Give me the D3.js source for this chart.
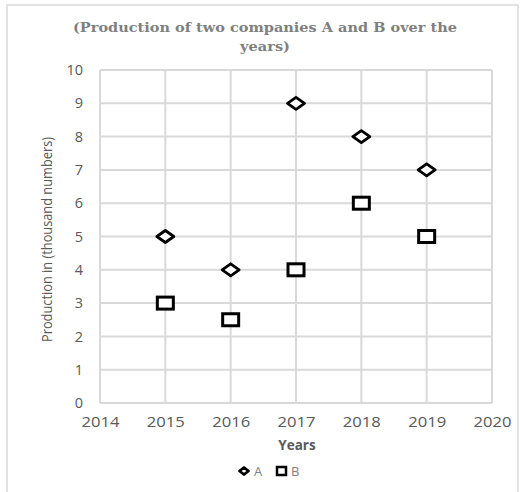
<!DOCTYPE html>
<html>
<head>
<meta charset="utf-8">
<script src="https://cdn.jsdelivr.net/npm/d3@7"></script>
<style>
  body { margin: 0; background: #fff; }
  text { font-family: "Open Sans", sans-serif; }
</style>
</head>
<body>
<script>
//Data
const years = [2015, 2016, 2017, 2018, 2019];
const seriesA = [5, 4, 9, 8, 7];
const seriesB = [3, 2.5, 4, 6, 5];
const xTicks = [2014, 2015, 2016, 2017, 2018, 2019, 2020];
const yTicks = [0, 1, 2, 3, 4, 5, 6, 7, 8, 9, 10];

const width = 520, height = 492;
const margin = {top: 70, right: 28, bottom: 89, left: 100};

const svg = d3.select("body").append("svg")
    .attr("width", width)
    .attr("height", height);

//Chart border
svg.append("rect")
    .attr("x", 7).attr("y", 5)
    .attr("width", 511).attr("height", 500)
    .attr("fill", "#fff")
    .attr("stroke", "#d9d9d9")
    .attr("stroke-width", 1.5);

//Scales
const x = d3.scaleLinear().domain([2014, 2020]).range([margin.left, width - margin.right]);
const y = d3.scaleLinear().domain([0, 10]).range([height - margin.bottom, margin.top]);

//Gridlines
svg.append("g").selectAll("line.h")
    .data(yTicks).enter().append("line")
    .attr("x1", x(2014)).attr("x2", x(2020))
    .attr("y1", d => y(d)).attr("y2", d => y(d))
    .attr("stroke", "#d9d9d9").attr("stroke-width", 2);

svg.append("g").selectAll("line.v")
    .data(xTicks).enter().append("line")
    .attr("x1", d => x(d)).attr("x2", d => x(d))
    .attr("y1", y(0)).attr("y2", y(10))
    .attr("stroke", "#d9d9d9").attr("stroke-width", 2);

//Axis labels
const yAxis = d3.axisLeft(y).tickValues(yTicks).tickSize(0).tickPadding(17);
svg.append("g")
    .attr("transform", `translate(${x(2014)},0)`)
    .call(yAxis)
    .call(g => g.select(".domain").remove())
    .selectAll("text")
    .attr("font-size", 14.5).attr("fill", "#595959")
    .style("font-family", "'Open Sans', sans-serif");

const xAxis = d3.axisBottom(x).tickValues(xTicks).tickSize(0).tickPadding(14).tickFormat(d3.format("d"));
svg.append("g")
    .attr("transform", `translate(0,${y(0)})`)
    .call(xAxis)
    .call(g => g.select(".domain").remove())
    .selectAll("text")
    .attr("font-size", 14.5).attr("fill", "#595959")
    .attr("textLength", 38).attr("lengthAdjust", "spacingAndGlyphs")
    .style("font-family", "'Open Sans', sans-serif");

//Title
const title = svg.append("text")
    .attr("text-anchor", "middle")
    .attr("fill", "#7f7f7f")
    .attr("font-size", 13.5)
    .attr("font-weight", "bold")
    .style("font-family", "'DejaVu Serif', serif");
title.append("tspan").attr("x", 265).attr("y", 32)
    .attr("textLength", 384).attr("lengthAdjust", "spacingAndGlyphs")
    .text("(Production of two companies A and B over the");
title.append("tspan").attr("x", 265).attr("y", 51)
    .attr("textLength", 50).attr("lengthAdjust", "spacingAndGlyphs")
    .text("years)");

//Axis titles
svg.append("text")
    .attr("transform", `translate(52,${(y(0) + y(10)) / 2 + 3}) rotate(-90)`)
    .attr("text-anchor", "middle")
    .attr("font-size", 14)
    .attr("fill", "#595959")
    .attr("textLength", 205).attr("lengthAdjust", "spacingAndGlyphs")
    .style("font-family", "'Liberation Sans Narrow', 'Open Sans', sans-serif")
    .text("Production in (thousand numbers)");

svg.append("text")
    .attr("x", 297).attr("y", 450)
    .attr("text-anchor", "middle")
    .attr("font-size", 13.5)
    .attr("font-weight", "bold")
    .attr("fill", "#595959")
    .text("Years");

//Markers (reference is stretched horizontally)
const diamondPath = (w, h) => `M${-w / 2},0L0,${-h / 2}L${w / 2},0L0,${h / 2}Z`;

svg.append("g").selectAll("path.a")
    .data(years.map((d, i) => ({year: d, value: seriesA[i]})))
    .enter().append("path")
    .attr("d", diamondPath(17, 12))
    .attr("transform", d => `translate(${x(d.year)},${y(d.value)})`)
    .attr("fill", "#fff").attr("stroke", "#000").attr("stroke-width", 2.8)
    .attr("stroke-linejoin", "round");

svg.append("g").selectAll("rect.b")
    .data(years.map((d, i) => ({year: d, value: seriesB[i]})))
    .enter().append("rect")
    .attr("x", d => x(d.year) - 8)
    .attr("y", d => y(d.value) - 6)
    .attr("width", 16).attr("height", 12)
    .attr("fill", "#fff").attr("stroke", "#000").attr("stroke-width", 3);

//Legend
const legend = svg.append("g").attr("transform", "translate(0,471)");
legend.append("path")
    .attr("d", diamondPath(9, 7))
    .attr("transform", "translate(244,0)")
    .attr("fill", "#fff").attr("stroke", "#000").attr("stroke-width", 2.8)
    .attr("stroke-linejoin", "round");
legend.append("text").attr("x", 254).attr("y", 5)
    .attr("font-size", 13).attr("fill", "#7f7f7f").text("A");
legend.append("rect")
    .attr("x", 277).attr("y", -4)
    .attr("width", 9).attr("height", 8)
    .attr("fill", "#fff").attr("stroke", "#000").attr("stroke-width", 2.5);
legend.append("text").attr("x", 291).attr("y", 5)
    .attr("font-size", 13).attr("fill", "#7f7f7f").text("B");
</script>
</body>
</html>
